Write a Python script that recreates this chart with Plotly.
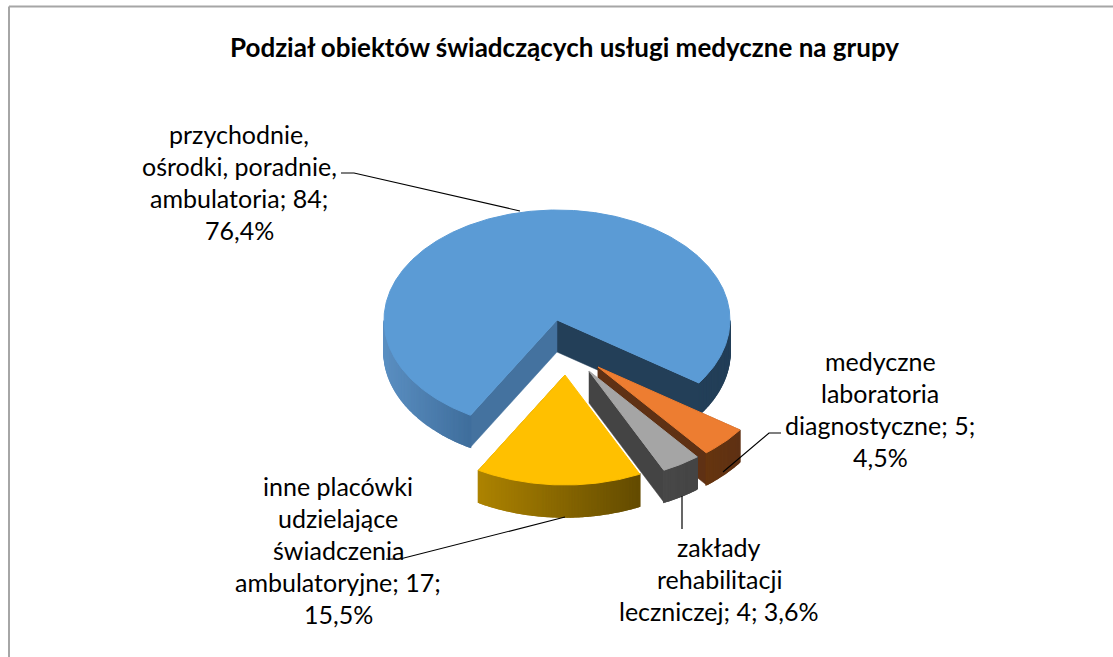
import numpy as np
import plotly.graph_objects as go

title = "Podział obiektów świadczących usługi medyczne na grupy"
categories = ["przychodnie, ośrodki, poradnie, ambulatoria",
              "medyczne laboratoria diagnostyczne",
              "zakłady rehabilitacji leczniczej",
              "inne placówki udzielające świadczenia ambulatoryjne"]
values = [84, 5, 4, 17]
percent_labels = ["76,4%", "4,5%", "3,6%", "15,5%"]
label_lines = [
    ["przychodnie,", "ośrodki, poradnie,", "ambulatoria; 84;", "76,4%"],
    ["medyczne", "laboratoria", "diagnostyczne; 5;", "4,5%"],
    ["zakłady", "rehabilitacji", "leczniczej; 4; 3,6%"],
    ["inne placówki", "udzielające", "świadczenia", "ambulatoryjne; 17;", "15,5%"],
]
top_colors = ["#5B9BD5", "#ED7D31", "#A5A5A5", "#FFC000"]
# Side colours: rim colour at the left and right of the visible rim, cut faces
rim_left = ["#5B8FC2", "#66350F", "#484848", "#AD8300"]
rim_right = ["#233F58", "#5F3114", "#444444", "#634B00"]
face_a = ["#233F58", "#5F3114", "#444444", "#7F6000"]
face_b = ["#44729F", "#5F3114", "#444444", "#7F6000"]

# Projection of the pie disc on the page, in page pixels
CX, CY, RX, RY, DEPTH = 557, 320, 173, 110, 32
START = 120.0  # degrees clockwise from east where the first slice starts
# Explosion of each slice in disc units
explode = [(0, 0), (0.237, 0.427), (0.185, 0.464), (0.046, 0.50)]

fig = go.Figure()


def poly(x, y, color, width=0.5):
    fig.add_trace(go.Scatter(x=list(x), y=list(y), mode="lines", fill="toself",
                             fillcolor=color, line=dict(color=color, width=width),
                             hoverinfo="skip", showlegend=False))


def lerp(c1, c2, t):
    a = [int(c1[i:i + 2], 16) for i in (1, 3, 5)]
    b = [int(c2[i:i + 2], 16) for i in (1, 3, 5)]
    return "rgb(%d,%d,%d)" % tuple(round(p + (q - p) * t) for p, q in zip(a, b))


total = sum(values)
angle = START
for i, v in enumerate(values):
    sweep = 360.0 * v / total
    a0, a1 = angle, angle + sweep
    angle = a1
    ox = CX + explode[i][0] * RX
    oy = CY + explode[i][1] * RY
    th = np.radians(np.linspace(a0, a1, max(int(sweep * 2), 8)))
    ex, ey = ox + RX * np.cos(th), oy + RY * np.sin(th)

    # cut faces that are turned to the viewer
    def face(a, color):
        t = np.radians(a)
        px, py = ox + RX * np.cos(t), oy + RY * np.sin(t)
        poly([ox, px, px, ox, ox], [oy, py, py + DEPTH, oy + DEPTH, oy], color)

    # the face at the slice's end (a1) looks lower-left, the start (a0) lower-right
    if i == 0:
        face(a1 % 360, face_a[i])
        face(a0, face_b[i])
    else:
        face(a1, face_b[i])
        if i == 1:
            face(a0, face_a[i])

    # visible rim, split in thin strips for the gradient
    vis = [(a, x, y) for a, x, y in zip(np.degrees(th) % 360, ex, ey) if a <= 180]
    if vis:
        xs = np.array([p[1] for p in vis])
        ys = np.array([p[2] for p in vis])
        order = np.argsort(xs)
        xs, ys = xs[order], ys[order]
        breaks = np.where(np.diff(xs) > 20)[0]
        groups = np.split(np.arange(len(xs)), breaks + 1)
        for g in groups:
            gmin, gmax = xs[g].min(), xs[g].max()
            for k in range(len(g) - 1):
                j0, j1 = g[k], g[k + 1]
                if i == 0:
                    t = (xs[j0] - gmin) / max(gmax - gmin, 1)
                    c = lerp(rim_left[i], "#3F6E9C", t) if xs[j0] < CX else rim_right[i]
                else:
                    c = lerp(rim_left[i], rim_right[i], (xs[j0] - gmin) / max(gmax - gmin, 1))
                poly([xs[j0], xs[j1], xs[j1], xs[j0], xs[j0]],
                     [ys[j0], ys[j1], ys[j1] + DEPTH, ys[j0] + DEPTH, ys[j0]], c, width=1.5)

    # top face
    poly(np.r_[ox, ex, ox], np.r_[oy, ey, oy], top_colors[i], width=1)

# Leader lines
leaders = [
    ([341, 354, 520], [173, 173, 211]),
    ([781, 769, 723], [433, 433, 472]),
    ([682, 682], [496, 529]),
    ([565, 400, 386], [517, 559, 559]),
]
for lx, ly in leaders:
    fig.add_trace(go.Scatter(x=lx, y=ly, mode="lines", hoverinfo="skip", showlegend=False,
                             line=dict(color="#000000", width=1.2)))

# Labels: centre x and first-line y of each block, with its line step
blocks = [(239, 134, 32), (880, 361, 32), (719, 547, 32), (338, 486, 32)]
annotations = []
for (bx, by, step), lines in zip(blocks, label_lines):
    for n, line in enumerate(lines):
        annotations.append(dict(x=bx, y=by + n * step, text=line, showarrow=False,
                                xref="x", yref="y", xanchor="center", yanchor="middle",
                                font=dict(family="Lato", size=25, color="#000000")))
annotations.append(dict(x=564, y=47, text="<b>%s</b>" % title, showarrow=False,
                        xref="x", yref="y", xanchor="center", yanchor="middle",
                        font=dict(family="Lato", size=26, color="#000000")))

fig.update_layout(
    width=1113, height=657, margin=dict(l=0, r=0, t=0, b=0),
    paper_bgcolor="#FFFFFF", plot_bgcolor="#FFFFFF", showlegend=False,
    xaxis=dict(range=[0, 1113], visible=False, fixedrange=True),
    yaxis=dict(range=[657, 0], visible=False, fixedrange=True),
    annotations=annotations,
    shapes=[dict(type="line", x0=9, x1=9, y0=6.5, y1=657, xref="x", yref="y",
                 line=dict(color="#A6A6A6", width=2)),
            dict(type="line", x0=9, x1=1113, y0=6.5, y1=6.5, xref="x", yref="y",
                 line=dict(color="#A6A6A6", width=2))],
)
fig.write_html("out.html", config=dict(displayModeBar=False),
               post_script="document.body.style.margin='0';document.documentElement.style.overflow='hidden';")
